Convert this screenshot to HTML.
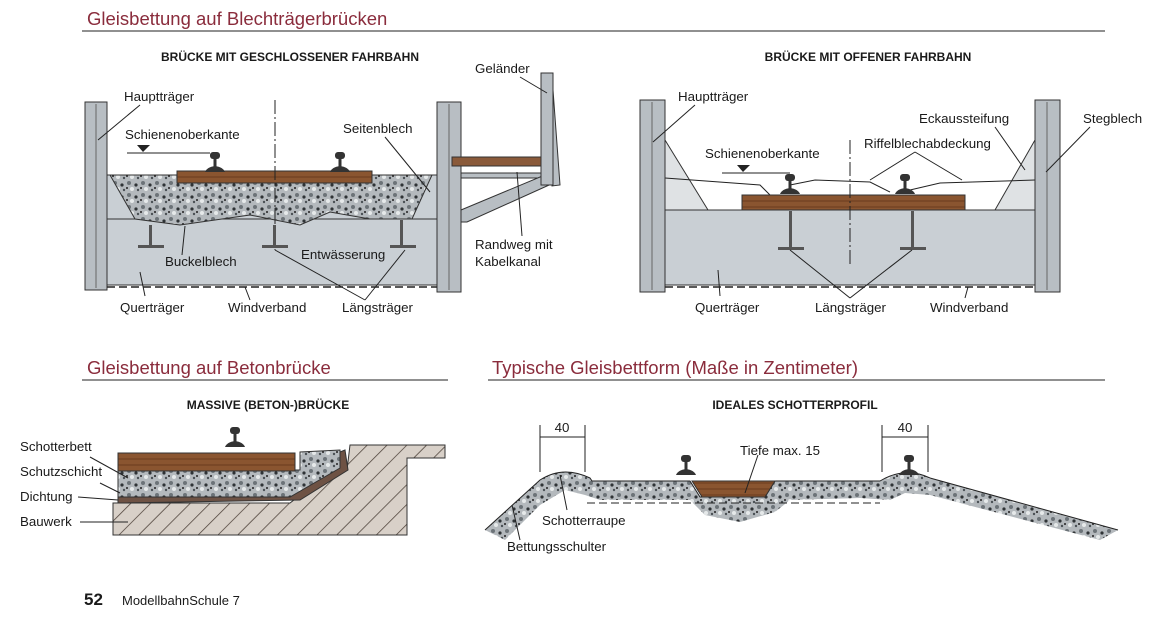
<!DOCTYPE html>
<html><head><meta charset="utf-8"><style>
html,body{margin:0;padding:0;background:#fff}
svg{display:block}
text{font-family:"Liberation Sans",sans-serif;fill:#1a1a1a}
.t{font-size:18.5px;fill:#8a2c3c}
.s{font-size:12px;font-weight:bold}
.l{font-size:13.3px}
.ln{stroke:#222;stroke-width:1;fill:none}
</style></head><body>
<svg width="1170" height="620" viewBox="0 0 1170 620" xmlns="http://www.w3.org/2000/svg">
<defs>
<pattern id="bal" width="14" height="12" patternUnits="userSpaceOnUse">
<rect width="14" height="12" fill="#b4b9bd"/>
<circle cx="3" cy="3" r="2" fill="#6c7378"/><circle cx="10" cy="5" r="1.6" fill="#2f3336"/>
<circle cx="6" cy="9" r="2" fill="#e6e9ea"/><circle cx="12" cy="10" r="1.2" fill="#4a5055"/>
<circle cx="1" cy="8" r="1" fill="#222"/>
</pattern>
<pattern id="hat" width="14" height="14" patternUnits="userSpaceOnUse" patternTransform="rotate(45)">
<rect width="14" height="14" fill="#d8d0c8"/><line x1="0" y1="0" x2="0" y2="14" stroke="#4a3e36" stroke-width="1.5"/>
</pattern>
<pattern id="wood" width="40" height="6" patternUnits="userSpaceOnUse">
<rect width="40" height="6" fill="#8a5530"/><line x1="0" y1="3" x2="40" y2="3" stroke="#5e3318" stroke-width="0.8"/>
</pattern>
<g id="rail"><rect x="-5" y="0" width="10" height="7" rx="3" fill="#333"/><rect x="-1.5" y="6" width="3" height="9" fill="#333"/><path d="M-10 20 Q-8 15 0 14 Q8 15 10 20Z" fill="#333"/></g>
</defs>

<text x="87" y="25" class="t">Gleisbettung auf Blechträgerbrücken</text>
<line x1="82" y1="31" x2="1105" y2="31" stroke="#222"/>
<text x="290" y="61" class="s" text-anchor="middle">BRÜCKE MIT GESCHLOSSENER FAHRBAHN</text>
<text x="868" y="61" class="s" text-anchor="middle">BRÜCKE MIT OFFENER FAHRBAHN</text>

<!-- LEFT BRIDGE -->
<rect x="107" y="175" width="330" height="110" fill="#c9cfd4" stroke="#333"/>
<line x1="107" y1="219" x2="437" y2="219" stroke="#333"/>
<path d="M110 175 L432 175 L412 219 L370 219 L330 212 L300 225 L250 215 L180 225 L135 219 Z" fill="url(#bal)" stroke="#333"/>
<rect x="177" y="171" width="195" height="12" fill="url(#wood)" stroke="#333"/>
<use href="#rail" x="215" y="152"/><use href="#rail" x="340" y="152"/>
<line x1="275" y1="100" x2="275" y2="250" stroke="#222" stroke-dasharray="14,3,2,3"/>
<g fill="#555"><rect x="149" y="225" width="3" height="20"/><rect x="138" y="245" width="26" height="3"/>
<rect x="273" y="225" width="3" height="20"/><rect x="262" y="245" width="26" height="3"/>
<rect x="400" y="220" width="3" height="25"/><rect x="390" y="245" width="26" height="3"/></g>
<rect x="85" y="102" width="22" height="188" fill="#b8bec3" stroke="#333"/>
<line x1="96" y1="104" x2="96" y2="288" stroke="#666"/>
<rect x="437" y="102" width="24" height="190" fill="#b8bec3" stroke="#333"/>
<line x1="449" y1="104" x2="449" y2="290" stroke="#666"/>
<line x1="107" y1="287" x2="437" y2="287" stroke="#222" stroke-dasharray="8,4" stroke-width="1.5"/>
<!-- walkway -->
<g stroke="#333" stroke-width="1">
<path d="M461 173 L545 173 L545 178 L461 178Z" fill="#b8bec3"/>
<path d="M461 210 L552 172 L558 181 L467 222 L461 222Z" fill="#b8bec3"/>
<path d="M545 90 L553 90 L560 185 L552 186Z" fill="#b8bec3"/>
</g>
<rect x="452" y="157" width="90" height="9" fill="#8a5a3a" stroke="#333"/>
<rect x="541" y="73" width="12" height="112" fill="#b8bec3" stroke="#333"/>
<text x="124" y="101" class="l">Hauptträger</text>
<text x="125" y="139" class="l">Schienenoberkante</text>
<path d="M137 145 L150 145 L143 152Z" fill="#222"/><line x1="127" y1="153" x2="210" y2="153" stroke="#222"/>
<text x="343" y="133" class="l">Seitenblech</text>
<text x="475" y="73" class="l">Geländer</text>
<text x="475" y="249" class="l">Randweg mit</text>
<text x="475" y="266" class="l">Kabelkanal</text>
<text x="165" y="266" class="l">Buckelblech</text>
<text x="301" y="259" class="l">Entwässerung</text>
<text x="120" y="312" class="l">Querträger</text>
<text x="228" y="312" class="l">Windverband</text>
<text x="342" y="312" class="l">Längsträger</text>
<g class="ln"><line x1="140" y1="105" x2="98" y2="140"/><line x1="385" y1="137" x2="430" y2="192"/><line x1="520" y1="77" x2="547" y2="93"/>
<line x1="517" y1="172" x2="522" y2="236"/>
<line x1="145" y1="296" x2="140" y2="272"/><line x1="250" y1="300" x2="245" y2="287"/><line x1="365" y1="300" x2="275" y2="250"/><line x1="365" y1="300" x2="405" y2="250"/>
<line x1="182" y1="255" x2="185" y2="226"/></g>

<!-- RIGHT BRIDGE -->
<rect x="665" y="210" width="370" height="75" fill="#c9cfd4" stroke="#333"/>
<path d="M665 140 L708 210 L665 210Z M1035 140 L995 210 L1035 210Z" fill="#dfe2e4" stroke="#333"/>
<path d="M665 178 L760 185 L770 195 M790 185 L815 180 L870 182 L890 192 M910 190 L940 183 L1035 180" class="ln" stroke-width="1.5"/>
<rect x="742" y="195" width="223" height="15" fill="url(#wood)" stroke="#333"/>
<use href="#rail" x="790" y="174"/><use href="#rail" x="905" y="174"/>
<line x1="850" y1="140" x2="850" y2="265" stroke="#222" stroke-dasharray="14,3,2,3"/>
<g fill="#555"><rect x="789" y="211" width="3" height="37"/><rect x="778" y="247" width="26" height="3"/>
<rect x="911" y="211" width="3" height="37"/><rect x="900" y="247" width="26" height="3"/></g>
<rect x="640" y="100" width="25" height="192" fill="#b8bec3" stroke="#333"/>
<line x1="652" y1="102" x2="652" y2="290" stroke="#666"/>
<rect x="1035" y="100" width="25" height="192" fill="#b8bec3" stroke="#333"/>
<line x1="1047" y1="102" x2="1047" y2="290" stroke="#666"/>
<line x1="665" y1="287" x2="1035" y2="287" stroke="#222" stroke-dasharray="8,4" stroke-width="1.5"/>
<text x="678" y="101" class="l">Hauptträger</text>
<text x="705" y="158" class="l">Schienenoberkante</text>
<path d="M737 165 L750 165 L743 172Z" fill="#222"/><line x1="722" y1="173" x2="790" y2="173" stroke="#222"/>
<text x="919" y="123" class="l">Eckaussteifung</text>
<text x="864" y="148" class="l">Riffelblechabdeckung</text>
<text x="1083" y="123" class="l">Stegblech</text>
<text x="695" y="312" class="l">Querträger</text>
<text x="815" y="312" class="l">Längsträger</text>
<text x="930" y="312" class="l">Windverband</text>
<g class="ln"><line x1="695" y1="105" x2="653" y2="142"/><line x1="995" y1="127" x2="1025" y2="170"/><line x1="1090" y1="127" x2="1046" y2="172"/>
<line x1="915" y1="152" x2="870" y2="180"/><line x1="915" y1="152" x2="962" y2="180"/>
<line x1="720" y1="296" x2="718" y2="270"/><line x1="850" y1="298" x2="790" y2="250"/><line x1="850" y1="298" x2="912" y2="250"/><line x1="965" y1="298" x2="968" y2="287"/></g>

<!-- BOTTOM LEFT -->
<text x="87" y="374" class="t">Gleisbettung auf Betonbrücke</text>
<line x1="82" y1="380" x2="448" y2="380" stroke="#222"/>
<text x="268" y="409" class="s" text-anchor="middle">MASSIVE (BETON-)BRÜCKE</text>
<path d="M113 503 L290 503 L320 480 L347 470 L350 445 L445 445 L445 458 L407 458 L407 535 L113 535Z" fill="url(#hat)" stroke="#333"/>
<path d="M118 497 L290 497 L335 470 L340 452 L345 450 L348 470 L300 500 L118 503Z" fill="#6e5244" stroke="#333"/>
<path d="M118 470 L300 470 L300 452 L340 450 L340 468 L290 497 L118 497Z" fill="url(#bal)" stroke="#333"/>
<rect x="118" y="453" width="177" height="18" fill="url(#wood)" stroke="#333"/>
<use href="#rail" x="235" y="427"/>
<text x="20" y="451" class="l">Schotterbett</text>
<text x="20" y="476" class="l">Schutzschicht</text>
<text x="20" y="501" class="l">Dichtung</text>
<text x="20" y="526" class="l">Bauwerk</text>
<g class="ln"><line x1="90" y1="457" x2="128" y2="478"/><line x1="100" y1="483" x2="120" y2="493"/><line x1="78" y1="497" x2="118" y2="500"/><line x1="80" y1="522" x2="128" y2="522"/></g>

<!-- BOTTOM RIGHT -->
<text x="492" y="374" class="t">Typische Gleisbettform (Maße in Zentimeter)</text>
<line x1="488" y1="380" x2="1105" y2="380" stroke="#222"/>
<text x="795" y="409" class="s" text-anchor="middle">IDEALES SCHOTTERPROFIL</text>
<path d="M485 530 L540 480 Q563 465 590 478 L592 481 L690 481 L700 497 L765 497 L775 481 L880 481 Q905 466 930 478 L1118 530 L1100 540 L930 495 L905 493 L890 500 L860 498 L790 500 L775 512 L740 522 L705 515 L690 500 L600 500 L585 495 L565 490 L540 505 L505 540Z" fill="url(#bal)"/>
<path d="M485 530 L540 480 Q563 465 590 478 L592 481 L690 481 L700 497 L765 497 L775 481 L880 481 Q905 466 930 478 L1118 530" class="ln" stroke-width="2"/>
<path d="M692 481 L702 497 L765 497 L775 481Z" fill="url(#wood)" stroke="#333"/>
<line x1="587" y1="503" x2="880" y2="503" stroke="#222" stroke-dasharray="8,4"/>
<use href="#rail" x="686" y="455"/><use href="#rail" x="909" y="455"/>
<g class="ln"><line x1="540" y1="425" x2="540" y2="472"/><line x1="585" y1="425" x2="585" y2="472"/><line x1="540" y1="437" x2="585" y2="437"/>
<line x1="882" y1="425" x2="882" y2="472"/><line x1="928" y1="425" x2="928" y2="472"/><line x1="882" y1="437" x2="928" y2="437"/>
<line x1="758" y1="455" x2="745" y2="493"/><line x1="567" y1="510" x2="560" y2="475"/><line x1="520" y1="540" x2="512" y2="505"/></g>
<text x="562" y="432" class="l" text-anchor="middle">40</text>
<text x="905" y="432" class="l" text-anchor="middle">40</text>
<text x="740" y="455" class="l">Tiefe max. 15</text>
<text x="542" y="525" class="l">Schotterraupe</text>
<text x="507" y="551" class="l">Bettungsschulter</text>

<text x="84" y="605" style="font-size:17px;font-weight:bold">52</text>
<text x="122" y="605" style="font-size:13px">ModellbahnSchule 7</text>
</svg>
</body></html>
